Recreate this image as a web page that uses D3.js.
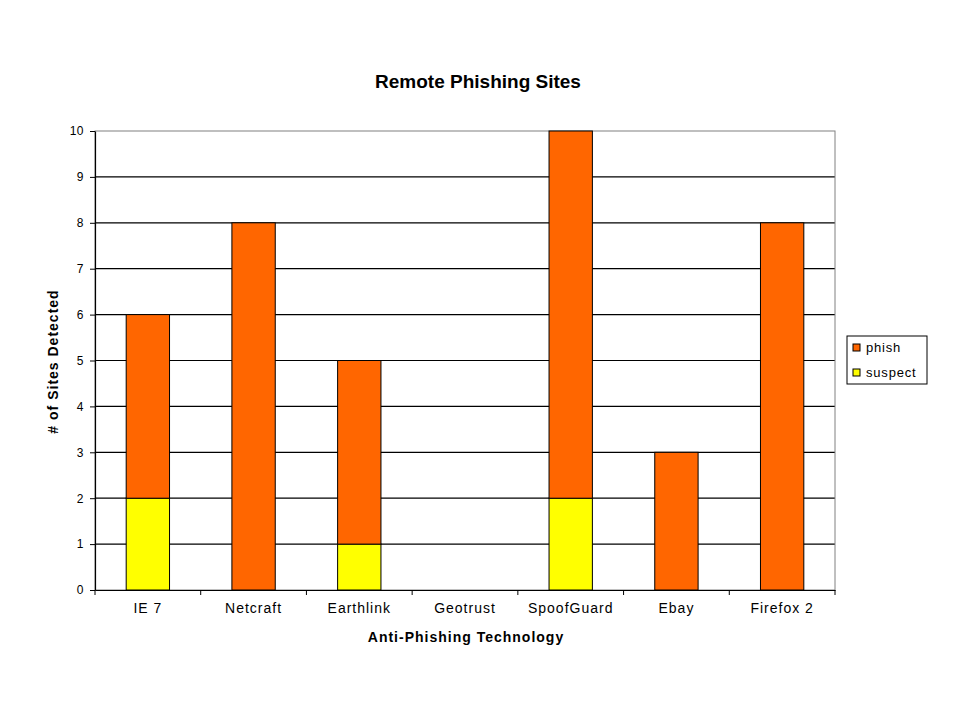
<!DOCTYPE html>
<html><head><meta charset="utf-8">
<script src="https://cdn.jsdelivr.net/npm/d3@7"></script>
<style>body{margin:0;background:#fff}svg{display:block}text{font-family:Arial,"Liberation Sans",sans-serif}</style>
</head><body>
<svg id="c" width="960" height="720"></svg>
<script>
const categories = ["IE 7","Netcraft","Earthlink","Geotrust","SpoofGuard","Ebay","Firefox 2"];
const suspect = [2,0,1,0,2,0,0];
const phish = [4,8,4,0,8,3,8];
const yTicks = [0,1,2,3,4,5,6,7,8,9,10];
const seriesNames = ["suspect","phish"];
const colors = {phish:"#FF6600", suspect:"#FFFF00"};

const svg = d3.select("#c");
const L=95, R=835, T=131, B=590;
const FF = "Arial, 'Liberation Sans', sans-serif";
const x = d3.scaleBand().domain(categories).range([L,R]).paddingInner(0.59).paddingOuter(0.295);
const y = d3.scaleLinear().domain([0,10]).range([B,T]);

// gridlines
svg.append("g").selectAll("line").data(yTicks.filter(t=>t>0&&t<10)).join("line")
  .attr("x1",L).attr("x2",R).attr("y1",d=>y(d)).attr("y2",d=>y(d))
  .attr("stroke","#000").attr("stroke-width",1.2);
// plot border
svg.append("rect").attr("x",L).attr("y",T).attr("width",R-L).attr("height",B-T)
  .attr("fill","none").attr("stroke","#808080").attr("stroke-width",1);

const data = categories.map((c,i)=>({cat:c,suspect:suspect[i],phish:phish[i]}));
const stack = d3.stack().keys(seriesNames)(data);
svg.append("g").selectAll("g").data(stack).join("g")
  .attr("fill",d=>colors[d.key])
  .selectAll("rect").data(d=>d.filter(p=>p[1]-p[0]>0)).join("rect")
  .attr("x",d=>x(d.data.cat)).attr("width",x.bandwidth())
  .attr("y",d=>y(d[1])).attr("height",d=>y(d[0])-y(d[1]))
  .attr("stroke","#000").attr("stroke-width",1);

// y axis
const ya = svg.append("g").attr("transform",`translate(${L},0)`)
  .call(d3.axisLeft(y).tickValues(yTicks).tickSize(5).tickSizeOuter(0).tickPadding(6));
ya.select(".domain").attr("stroke","#000").attr("stroke-width",1.2);
ya.selectAll(".tick line").attr("stroke","#000");
ya.selectAll("text").attr("font-size",12).attr("fill","#000").style("font-family",FF).style("letter-spacing","0.5px");

// x axis
const xa = svg.append("g").attr("transform",`translate(0,${B})`)
  .call(d3.axisBottom(x).tickSize(0).tickPadding(13));
xa.select(".domain").attr("stroke","#000").attr("stroke-width",1.2);
xa.selectAll("text").attr("font-size",14).attr("fill","#000").style("font-family",FF).style("letter-spacing","1px");
// category separator ticks
const seps = d3.range(categories.length+1).map(i=>L+i*(R-L)/categories.length);
svg.append("g").selectAll("line").data(seps).join("line")
  .attr("x1",d=>d).attr("x2",d=>d).attr("y1",B).attr("y2",B+5).attr("stroke","#000");

// titles
svg.append("text").attr("x",478).attr("y",88).attr("text-anchor","middle")
  .attr("font-size",19).attr("font-weight","bold").text("Remote Phishing Sites");
svg.append("text").attr("x",466).attr("y",642).attr("text-anchor","middle")
  .attr("font-size",14).attr("font-weight","bold").style("letter-spacing","1px").text("Anti-Phishing Technology");
svg.append("text").attr("transform",`translate(58,${(T+B)/2+1}) rotate(-90)`).attr("text-anchor","middle")
  .attr("font-size",14).attr("font-weight","bold").style("letter-spacing","1px").text("# of Sites Detected");

// legend
const lg = svg.append("g");
lg.append("rect").attr("x",847).attr("y",336).attr("width",80).attr("height",48)
  .attr("fill","#fff").attr("stroke","#000");
["phish","suspect"].forEach((k,i)=>{
  lg.append("rect").attr("x",853).attr("y",344+i*25).attr("width",7).attr("height",7)
    .attr("fill",colors[k]).attr("stroke","#000");
  lg.append("text").attr("x",866).attr("y",352+i*25).attr("font-size",13).style("letter-spacing","0.8px").text(k);
});
</script>
</body></html>
